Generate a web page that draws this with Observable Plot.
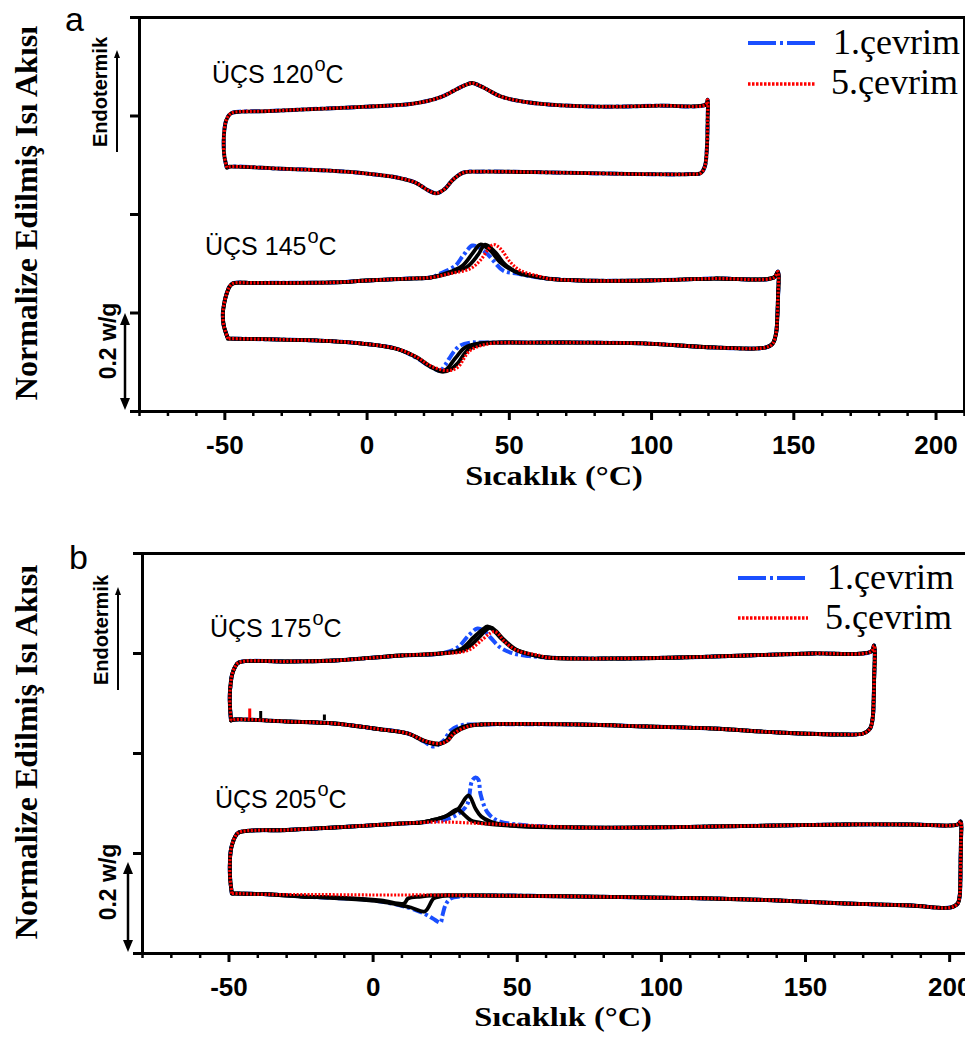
<!DOCTYPE html>
<html>
<head>
<meta charset="utf-8">
<script src="https://cdn.jsdelivr.net/npm/d3@7"></script>
<script src="https://cdn.jsdelivr.net/npm/@observablehq/plot@0.6"></script>
<style>
  html, body { margin: 0; padding: 0; background: #fff; overflow: hidden; }
  #wrap { position: relative; width: 965px; height: 1042px; overflow: hidden; }
  #wrap > svg { position: absolute; left: 0; }
</style>
</head>
<body>
<div id="wrap"></div>
<script>
// ---------------- DATA (temperature °C, normalised heat flow, 0.2 w/g per tick) ----------------
const seriesNames = ["1.çevrim", "5.çevrim"];
const xMajorTicks = [-50, 0, 50, 100, 150, 200];
const xMinorTicks = [-80, -70, -60, -40, -30, -20, -10, 10, 20, 30, 40, 60, 70, 80, 90, 110, 120, 130, 140, 160, 170, 180, 190, 210];
const yTicks = [0, 0.2, 0.4, 0.6, 0.8];
const loopLabels = ["ÜÇS 120", "ÜÇS 145", "ÜÇS 175", "ÜÇS 205"];

// ---- Panel a, ÜÇS 120 °C (all cycles coincide)
const a120_heatStart = [[-49.3,0.495],[-50.2,0.520],[-50.4,0.550],[-50.1,0.575],[-49.6,0.590],[-48.5,0.602],[-47.2,0.607],[-35,0.610],[-23.6,0.613],[0,0.619],[16.2,0.625]];
const a120_heatPeak = [[25.7,0.638],[32,0.656],[35,0.664],[37,0.667],[39,0.663],[41.5,0.656],[46.8,0.640],[53.9,0.630],[64.4,0.623]];
const a120_turn = [[82,0.619],[103,0.621],[119,0.623],[119.7,0.633],[119.7,0.591],[119.4,0.530],[118.7,0.497],[117.3,0.484],[113.7,0.482],[96,0.482],[68,0.485],[39.8,0.487]];
const a120_coolDip = [[33.8,0.485],[29.9,0.469],[27.5,0.453],[24.3,0.443],[21.5,0.449],[16.9,0.465],[10.6,0.475]];
const a120_coolEnd = [[0,0.483],[-13,0.489],[-30.6,0.493],[-48.2,0.497]];

// ---- Panel a, ÜÇS 145 °C
const a145_heatStart = [[-48.9,0.148],[-50.4,0.175],[-50.7,0.199],[-50.2,0.220],[-49.6,0.235],[-48.5,0.252],[-47.2,0.260],[-40,0.261],[-12,0.262],[0,0.266],[15,0.270],[22.2,0.272]];
const a145_heatPeak1 = [[25.7,0.280],[31,0.296],[33.8,0.317],[37,0.337],[39,0.334],[42.1,0.321],[47.9,0.286],[52.8,0.280],[58,0.274]];
const a145_heatPeak2 = [[27.5,0.280],[33.5,0.296],[37.3,0.323],[39.8,0.339],[43.3,0.327],[46.8,0.303],[52.1,0.284],[57.4,0.276]];
const a145_heatPeak3 = [[28.5,0.280],[35.2,0.294],[39.1,0.319],[41.5,0.339],[45.1,0.323],[48.6,0.298],[53.9,0.280],[59.2,0.274]];
const a145_heatPeak5 = [[29.2,0.280],[36.3,0.290],[39.8,0.307],[42.3,0.327],[44.4,0.339],[46.8,0.331],[50.4,0.303],[53.9,0.286],[60.9,0.274]];
const a145_turn = [[63.4,0.270],[75,0.266],[98.6,0.266],[121.8,0.270],[143,0.272],[144.4,0.284],[144.4,0.225],[144.1,0.180],[143.8,0.160],[142.6,0.138],[140.1,0.130],[121.8,0.130],[98.6,0.138],[75,0.140],[55,0.140]];
const a145_coolDip1 = [[40,0.140],[36.3,0.140],[32.7,0.134],[30.3,0.120],[27.5,0.095],[25.7,0.083],[22.2,0.091],[17.6,0.108]];
const a145_coolDip2 = [[44,0.140],[39.8,0.139],[34.5,0.130],[31,0.108],[28.2,0.087],[26.4,0.081],[22.2,0.091],[17.6,0.109]];
const a145_coolDip3 = [[47,0.140],[41.5,0.138],[35.6,0.126],[32,0.099],[29.2,0.085],[26.8,0.081],[22.2,0.092],[17.6,0.110]];
const a145_coolDip5 = [[51.4,0.140],[43.3,0.138],[36.3,0.124],[31.7,0.089],[28.2,0.083],[22.2,0.093],[17.6,0.110]];
const a145_coolEnd = [[10.6,0.127],[0,0.137],[-13,0.143],[-30,0.146],[-48.2,0.148]];

// ---- Panel b, ÜÇS 175 °C
const b175_heatStart = [[-49.3,0.466],[-49.7,0.500],[-49.7,0.520],[-49.4,0.540],[-49,0.556],[-48,0.572],[-46.6,0.582],[-30,0.584],[-13.4,0.586],[9.7,0.596],[23.4,0.600]];
const b175_heatPeak1 = [[29.3,0.612],[33.1,0.636],[36.2,0.650],[38.5,0.645],[40.7,0.632],[44.1,0.612],[48.6,0.600],[54,0.595]];
const b175_heatPeak2 = [[30.3,0.608],[34.8,0.632],[38,0.648],[39.7,0.654],[41.5,0.648],[44.1,0.632],[48.6,0.610],[54.5,0.598]];
const b175_heatPeak3 = [[31.5,0.607],[36,0.628],[39,0.646],[40.8,0.652],[42.6,0.645],[45,0.630],[49.5,0.608],[55.5,0.597]];
const b175_heatPeak5 = [[32.8,0.606],[38.3,0.630],[40.5,0.640],[42.1,0.644],[43.6,0.638],[45.2,0.626],[50,0.606],[57.9,0.596]];
const b175_turn = [[60.3,0.592],[83.1,0.590],[106.2,0.592],[129.3,0.596],[152.1,0.600],[172.8,0.604],[173.8,0.616],[173.8,0.546],[173.6,0.500],[173.4,0.476],[172.4,0.450],[170,0.440],[163.8,0.438],[140.7,0.442],[117.6,0.450],[94.8,0.454],[71.7,0.458],[37.2,0.458]];
const b175_coolDip1 = [[30.3,0.456],[26.9,0.446],[24.5,0.426],[21,0.414],[17.6,0.424]];
const b175_coolDip2 = [[32,0.455],[27.5,0.442],[25.4,0.426],[22.5,0.418],[17.6,0.425]];
const b175_coolDip5 = [[32.8,0.454],[28,0.440],[25.9,0.426],[23.4,0.420],[20,0.422],[17.6,0.426]];
const b175_coolEnd = [[12.1,0.440],[0.3,0.450],[-13.4,0.460],[-30,0.464],[-47.9,0.468]];
// small spikes on the 175 °C cooling branch: [T, Qlow, Qhigh]
const b175_glitchMid = [[-39,0.470,0.484],[-16.9,0.466,0.477]];
const b175_glitch5 = [[-42.8,0.470,0.489]];

// ---- Panel b, ÜÇS 205 °C
const b205_heatStart = [[-49,0.120],[-49.6,0.150],[-49.7,0.180],[-49.4,0.205],[-49,0.216],[-48,0.232],[-46.6,0.242],[-30,0.247],[-13.4,0.252],[9.7,0.260],[16.6,0.262]];
const b205_heatPeak1 = [[20,0.264],[25,0.268],[28,0.274],[31,0.286],[32.8,0.300],[34.3,0.345],[35.5,0.352],[36.5,0.348],[37.3,0.318],[39.7,0.282],[43.1,0.266],[50,0.258]];
const b205_heatPeak2 = [[20,0.266],[25,0.274],[29.3,0.288],[33.1,0.316],[35.5,0.290],[37.5,0.274],[40.7,0.264],[47.6,0.256]];
const b205_heatPeak3 = [[20,0.266],[25,0.274],[29.3,0.288],[31.5,0.278],[34,0.266],[39,0.260],[47,0.256]];
const b205_heatPeak5 = [[25,0.263],[37.2,0.260],[50,0.257]];
const b205_turn = [[71.7,0.252],[94.8,0.252],[117.6,0.254],[140.7,0.256],[163.8,0.258],[186.6,0.258],[202.8,0.258],[203.8,0.264],[203.9,0.220],[203.8,0.186],[203.7,0.140],[203.5,0.116],[202.8,0.100],[200.3,0.092],[186.6,0.096],[163.8,0.100],[140.7,0.106],[117.6,0.110],[94.8,0.112],[71.7,0.114],[37.2,0.116]];
const b205_coolDip1 = [[30.3,0.114],[26.9,0.110],[25.2,0.098],[24,0.075],[23.4,0.062],[20.7,0.070],[17.6,0.080],[12.1,0.092],[0.3,0.106],[-13.4,0.111],[-24.8,0.114]];
const b205_coolDip2 = [[26,0.116],[23.4,0.114],[21,0.110],[17.9,0.084],[13.1,0.092],[2.8,0.104],[-13.4,0.111],[-24.8,0.114]];
const b205_coolDip3 = [[20,0.116],[16.6,0.114],[12.1,0.110],[10.7,0.100],[2.8,0.106],[-13.4,0.112],[-24.8,0.114]];
const b205_coolDip5 = [[20,0.117],[0,0.117],[-24.8,0.118]];
const b205_coolEnd = [[-35,0.118],[-47.9,0.120]];

// ---------------- BUILD ROWS ----------------
function cyclePath(id, cyc, parts) {
  const pts = parts.flat();
  pts.push(parts[0][0]); // close the loop
  return pts.map(([T, Q]) => ({id, cyc, T, Q}));
}
const panelA = [
  ...cyclePath("120-1", "1", [a120_heatStart, a120_heatPeak, a120_turn, a120_coolDip, a120_coolEnd]),
  ...cyclePath("120-m", "m", [a120_heatStart, a120_heatPeak, a120_turn, a120_coolDip, a120_coolEnd]),
  ...cyclePath("120-5", "5", [a120_heatStart, a120_heatPeak, a120_turn, a120_coolDip, a120_coolEnd]),
  ...cyclePath("145-1", "1", [a145_heatStart, a145_heatPeak1, a145_turn, a145_coolDip1, a145_coolEnd]),
  ...cyclePath("145-2", "m", [a145_heatStart, a145_heatPeak2, a145_turn, a145_coolDip2, a145_coolEnd]),
  ...cyclePath("145-3", "m", [a145_heatStart, a145_heatPeak3, a145_turn, a145_coolDip3, a145_coolEnd]),
  ...cyclePath("145-5", "5", [a145_heatStart, a145_heatPeak5, a145_turn, a145_coolDip5, a145_coolEnd])
];
const panelB = [
  ...cyclePath("175-1", "1", [b175_heatStart, b175_heatPeak1, b175_turn, b175_coolDip1, b175_coolEnd]),
  ...cyclePath("175-2", "m", [b175_heatStart, b175_heatPeak2, b175_turn, b175_coolDip2, b175_coolEnd]),
  ...cyclePath("175-3", "m", [b175_heatStart, b175_heatPeak3, b175_turn, b175_coolDip5, b175_coolEnd]),
  ...cyclePath("175-5", "5", [b175_heatStart, b175_heatPeak5, b175_turn, b175_coolDip5, b175_coolEnd]),
  ...cyclePath("205-1", "1", [b205_heatStart, b205_heatPeak1, b205_turn, b205_coolDip1, b205_coolEnd]),
  ...cyclePath("205-2", "m", [b205_heatStart, b205_heatPeak2, b205_turn, b205_coolDip2, b205_coolEnd]),
  ...cyclePath("205-3", "m", [b205_heatStart, b205_heatPeak3, b205_turn, b205_coolDip3, b205_coolEnd]),
  ...cyclePath("205-5", "5", [b205_heatStart, b205_heatPeak5, b205_turn, b205_coolDip5, b205_coolEnd])
];
const toRule = arr => arr.map(([T, Q1, Q2]) => ({T, Q1, Q2}));

// ---------------- STYLE ----------------
const BLUE = "#1a4fff", RED = "#ff0000", BLACK = "#000";
const SANS = "'Liberation Sans', Arial, sans-serif";
const SERIF = "'Liberation Serif', 'Times New Roman', serif";

function lineMarks(rows) {
  return [
    Plot.line(rows.filter(d => d.cyc === "1"), {x: "T", y: "Q", z: "id", stroke: BLUE, strokeWidth: 4, strokeDasharray: "10,3,3,3", strokeLinecap: "butt", curve: "catmull-rom"}),
    Plot.line(rows.filter(d => d.cyc === "m"), {x: "T", y: "Q", z: "id", stroke: BLACK, strokeWidth: 3.8, curve: "catmull-rom"}),
    Plot.line(rows.filter(d => d.cyc === "5"), {x: "T", y: "Q", z: "id", stroke: RED, strokeWidth: 3.2, strokeDasharray: "2,1.6", strokeLinecap: "butt", curve: "catmull-rom"})
  ];
}
function axisMarks() {
  return [
    Plot.axisX({ticks: xMinorTicks, tickSize: 5, tickFormat: () => "", strokeWidth: 2.5, label: null}),
    Plot.axisX({ticks: xMajorTicks, tickSize: 9, tickPadding: 15, tickFormat: d => String(d), strokeWidth: 3,
      fontSize: 26, fontWeight: "bold", fontFamily: SANS, label: null}),
    Plot.axisY({ticks: yTicks, tickSize: 9, tickFormat: () => "", strokeWidth: 3, label: null})
  ];
}

const plotA = Plot.plot({
  width: 965, height: 500,
  marginTop: 17, marginLeft: 139, marginRight: 1, marginBottom: 89,
  x: {domain: [-80, 210]},
  y: {domain: [0, 0.8]},
  style: {background: "transparent", color: "black", overflow: "visible"},
  marks: [
    ...lineMarks(panelA),
    Plot.frame({stroke: BLACK, strokeWidth: 3}),
    ...axisMarks()
  ]
});

const plotB = Plot.plot({
  width: 965, height: 542,
  marginTop: 53, marginLeft: 142, marginRight: 0, marginBottom: 89,
  x: {domain: [-80, 205.5]},
  y: {domain: [0, 0.8]},
  style: {background: "transparent", color: "black", overflow: "visible"},
  marks: [
    ...lineMarks(panelB),
    Plot.ruleX(toRule(b175_glitchMid), {x: "T", y1: "Q1", y2: "Q2", stroke: BLACK, strokeWidth: 3}),
    Plot.ruleX(toRule(b175_glitch5), {x: "T", y1: "Q1", y2: "Q2", stroke: RED, strokeWidth: 3}),
    Plot.ruleY([0, 0.8], {stroke: BLACK, strokeWidth: 3}),
    Plot.ruleX([-80], {stroke: BLACK, strokeWidth: 3}),
    ...axisMarks()
  ]
});

const wrap = document.getElementById("wrap");
plotA.style.top = "0px";
plotB.style.top = "500px";
wrap.appendChild(plotA);
wrap.appendChild(plotB);

// ---------------- ANNOTATIONS (overlay) ----------------
const ov = d3.select(wrap).append("svg")
  .attr("width", 965).attr("height", 1042)
  .style("position", "absolute").style("left", "0px").style("top", "0px")
  .style("pointer-events", "none");

function txt(x, y, s, o = {}) {
  const t = ov.append("text").attr("x", x).attr("y", y).text(s)
    .attr("font-family", o.family || SANS).attr("font-size", o.size || 20)
    .attr("font-weight", o.weight || "normal").attr("fill", "black");
  if (o.anchor) t.attr("text-anchor", o.anchor);
  if (o.transform) t.attr("transform", o.transform);
  return t;
}
function rotText(cx, cy, s, o) {
  ov.append("text").text(s)
    .attr("transform", `translate(${cx},${cy}) rotate(-90)`)
    .attr("text-anchor", "middle").attr("dominant-baseline", "central")
    .attr("font-family", o.family).attr("font-size", o.size).attr("font-weight", o.weight || "normal")
    .attr("fill", "black");
}
function arrowHead(x, y, dir) { // dir -1 = up, 1 = down
  ov.append("path").attr("d", `M${x},${y} L${x - 5},${y - dir * 12} L${x + 5},${y - dir * 12} Z`).attr("fill", "black");
}
function panelDecor(cfg) {
  rotText(26, cfg.ylabelY, "Normalize Edilmiş Isı Akısı", {family: SERIF, size: 32, weight: "bold"});
  rotText(cfg.endoX, cfg.endoY, "Endotermik", {family: SANS, size: 20, weight: "bold"});
  ov.append("line").attr("x1", cfg.endoArrowX).attr("x2", cfg.endoArrowX)
    .attr("y1", cfg.endoArrowY2).attr("y2", cfg.endoArrowY1 + 6).attr("stroke", "black").attr("stroke-width", 2);
  ov.append("path").attr("d", `M${cfg.endoArrowX},${cfg.endoArrowY1} L${cfg.endoArrowX - 3},${cfg.endoArrowY1 + 8} L${cfg.endoArrowX + 3},${cfg.endoArrowY1 + 8} Z`).attr("fill", "black");
  rotText(cfg.scaleTextX, cfg.scaleTextY, "0.2 w/g", {family: SANS, size: 23, weight: "bold"});
  ov.append("line").attr("x1", cfg.barX).attr("x2", cfg.barX)
    .attr("y1", cfg.barY1 + 8).attr("y2", cfg.barY2 - 8).attr("stroke", "black").attr("stroke-width", 2.5);
  arrowHead(cfg.barX, cfg.barY1, -1);
  arrowHead(cfg.barX, cfg.barY2, 1);
  txt(cfg.letterX, cfg.letterY, cfg.letter, {size: 34});
  txt(0, 0, "Sıcaklık (°C)", {family: SERIF, size: 27, weight: "bold", anchor: "middle",
    transform: `translate(${cfg.xlabelX},${cfg.xlabelY}) scale(1.2,1)`});
  ov.append("line").attr("x1", cfg.legX1).attr("x2", cfg.legX2).attr("y1", cfg.leg1Y).attr("y2", cfg.leg1Y)
    .attr("stroke", BLUE).attr("stroke-width", 4).attr("stroke-dasharray", "28,4,3,4");
  ov.append("line").attr("x1", cfg.legX1).attr("x2", cfg.legX2).attr("y1", cfg.leg2Y).attr("y2", cfg.leg2Y)
    .attr("stroke", RED).attr("stroke-width", 3.5).attr("stroke-dasharray", "2.5,1.5");
  txt(cfg.legTextX, cfg.leg1Base, seriesNames[0], {family: SERIF, size: 36});
  txt(cfg.legTextX - 2, cfg.leg2Base, seriesNames[1], {family: SERIF, size: 36});
  cfg.loops.forEach(([x, y, s]) => {
    const t = txt(x, y, s, {size: 25});
    t.append("tspan").attr("font-size", 20).attr("dy", -12).attr("dx", 1).text("o");
    t.append("tspan").attr("dy", 12).text("C");
  });
}

panelDecor({
  ylabelY: 213, endoX: 100, endoY: 92, endoArrowX: 117, endoArrowY1: 50, endoArrowY2: 152,
  scaleTextX: 108, scaleTextY: 341, barX: 125, barY1: 313, barY2: 410,
  letter: "a", letterX: 65, letterY: 31, xlabelX: 554, xlabelY: 485,
  legX1: 748, legX2: 815, leg1Y: 43, leg2Y: 84, legTextX: 833, leg1Base: 54, leg2Base: 94,
  loops: [[212, 83, loopLabels[0]], [205, 255, loopLabels[1]]]
});
panelDecor({
  ylabelY: 752, endoX: 101, endoY: 630, endoArrowX: 118, endoArrowY1: 587, endoArrowY2: 690,
  scaleTextX: 108, scaleTextY: 882, barX: 128, barY1: 862, barY2: 952,
  letter: "b", letterX: 69, letterY: 569, xlabelX: 563, xlabelY: 1026,
  legX1: 738, legX2: 808, leg1Y: 578, leg2Y: 618, legTextX: 827, leg1Base: 589, leg2Base: 629,
  loops: [[210, 637, loopLabels[2]], [215, 808, loopLabels[3]]]
});
</script>
</body>
</html>
